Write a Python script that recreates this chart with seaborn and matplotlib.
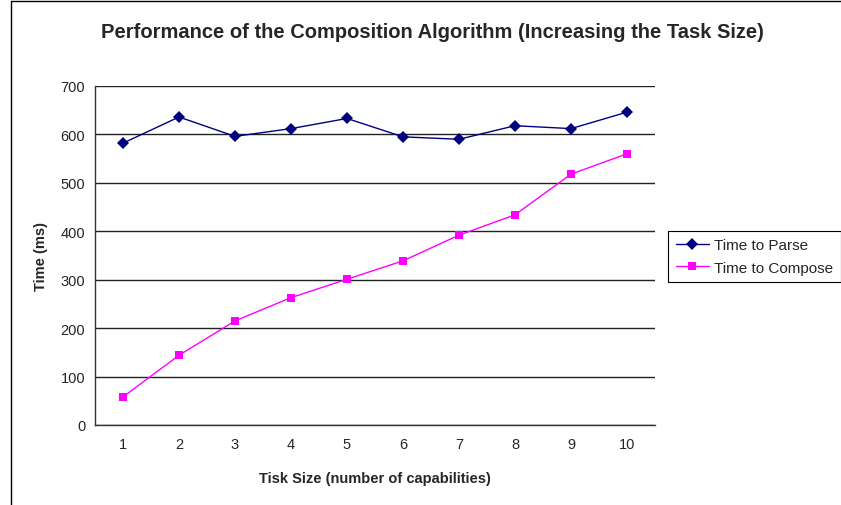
import numpy as np
import pandas as pd
import seaborn as sns
import matplotlib.pyplot as plt
from matplotlib.lines import Line2D

task_size = [1, 2, 3, 4, 5, 6, 7, 8, 9, 10]
time_to_parse = [582, 636, 596, 612, 633, 595, 590, 618, 612, 646]
time_to_compose = [58, 144, 215, 263, 301, 339, 392, 434, 518, 560]

sns.set_style("white")
plt.rcParams['font.family'] = ['Liberation Sans', 'DejaVu Sans']

df = pd.DataFrame({
    "Task": task_size * 2,
    "Time": time_to_parse + time_to_compose,
    "Series": ["Time to Parse"] * 10 + ["Time to Compose"] * 10,
})

fig = plt.figure(figsize=(8.41, 5.06), dpi=100)
ax = fig.add_axes([95 / 841, 80 / 506, 560 / 841, 339 / 506])

palette = {"Time to Parse": "#000080", "Time to Compose": "#FF00FF"}
markers = {"Time to Parse": "D", "Time to Compose": "s"}
sns.lineplot(data=df, x="Task", y="Time", hue="Series", style="Series",
             palette=palette, markers=markers, dashes=False,
             markersize=6, markeredgewidth=0, linewidth=1, ax=ax, zorder=3)

ax.set_xlim(0.5, 10.5)
ax.set_ylim(0, 700)
ax.set_yticks(range(0, 701, 100))
ax.set_xticks(task_size)
ax.set_xticks(np.arange(0.5, 11, 1), minor=True)
ax.tick_params(axis='x', which='major', length=0, pad=9, labelsize=10.5)
ax.tick_params(axis='x', which='minor', length=4, direction='out', width=1, color='#333333')
ax.tick_params(axis='y', length=4, direction='out', width=1, color='#333333', labelsize=10.5, pad=3)
ax.grid(axis='y', color='#222222', linewidth=1)
ax.set_axisbelow(True)
for s in ["top", "right"]:
    ax.spines[s].set_visible(False)
for s in ["left", "bottom"]:
    ax.spines[s].set_color('#333333')
    ax.spines[s].set_linewidth(1)

ax.set_xlabel("Tisk Size (number of capabilities)", fontsize=10.5, fontweight='bold', labelpad=14)
ax.set_ylabel("Time (ms)", fontsize=10.5, fontweight='bold', labelpad=9)

fig.text(432 / 841, 1 - 33 / 506, "Performance of the Composition Algorithm (Increasing the Task Size)",
         ha='center', va='center', fontsize=14.5, fontweight='bold')

handles, labels = ax.get_legend_handles_labels()
ax.legend(handles, labels, loc='center left', bbox_to_anchor=(668 / 841, 0.491),
          bbox_transform=fig.transFigure, frameon=True, fancybox=False,
          edgecolor='black', fontsize=11, borderpad=0.5, handlelength=2.2,
          handletextpad=0.3, labelspacing=0.55, framealpha=1, borderaxespad=0)
ax.get_legend().get_frame().set_linewidth(0.8)

# outer chart border
fig.add_artist(Line2D([11 / 841, 11 / 841], [0, 1 - 2 / 506], color='black', linewidth=1))
fig.add_artist(Line2D([11 / 841, 1], [1 - 2 / 506, 1 - 2 / 506], color='black', linewidth=1))

fig.savefig("out.png", dpi=100)
